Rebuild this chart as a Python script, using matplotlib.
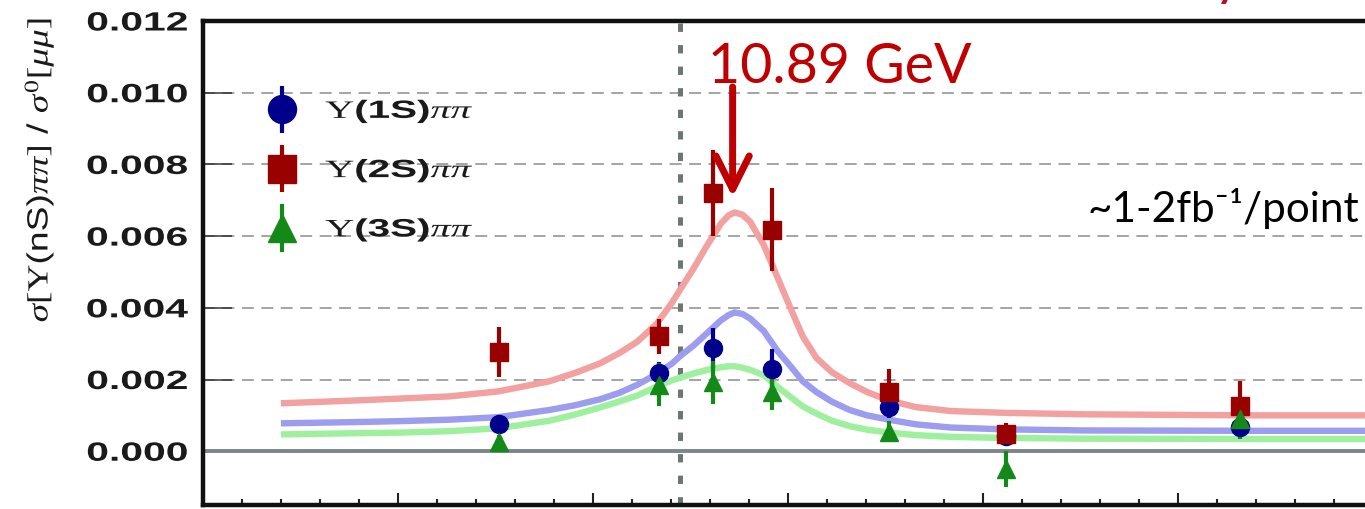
import numpy as np
import matplotlib
matplotlib.use("Agg")
import matplotlib.pyplot as plt
from matplotlib import patheffects
from matplotlib.transforms import Affine2D
from matplotlib.ticker import MultipleLocator
from matplotlib.container import ErrorbarContainer
from matplotlib.legend_handler import HandlerErrorbar

plt.rcParams.update({
    "mathtext.fontset": "custom",
    "mathtext.rm": "Liberation Serif",
    "mathtext.it": "Liberation Serif:italic",
    "mathtext.bf": "Liberation Serif:bold",
    "lines.scale_dashes": False,
})

# ---------------------------------------------------------------- data
# cross-section ratios are given in units of 1e-3
UNIT = 1e-3

# energy scan points (GeV)
energy = [10.83, 10.871, 10.885, 10.90, 10.93, 10.96, 11.02]

ups1s = [0.77, 2.19, 2.88, 2.28, 1.23, 0.42, 0.67]
ups1s_err = [0.25, 0.30, 0.57, 0.56, 0.30, 0.25, 0.25]

ups2s = [2.77, 3.20, 7.21, 6.18, 1.64, 0.47, 1.25]
ups2s_err = [0.70, 0.50, 1.20, 1.16, 0.65, 0.33, 0.70]

ups3s = [0.26, 1.86, 1.92, 1.64, 0.55, -0.50, 0.90]
ups3s_err = [0.20, 0.60, 0.60, 0.50, 0.30, 0.50, 0.55]

# fitted line shapes, sampled along the scan range
fit_energy = [10.775, 10.792, 10.805, 10.8175, 10.83, 10.843, 10.8495, 10.856,
              10.861, 10.8655, 10.8705, 10.8745, 10.8765, 10.88, 10.8835, 10.887,
              10.889, 10.8905, 10.8925, 10.8945, 10.898, 10.9015, 10.905, 10.908,
              10.9115, 10.9155, 10.92, 10.9245, 10.93, 10.937, 10.946, 10.96,
              10.98, 11.023, 11.055]
fit_2s = [1.34, 1.41, 1.47, 1.53, 1.67, 1.95, 2.18, 2.45, 2.74, 3.05, 3.55, 4.15,
          4.5, 5.1, 5.75, 6.35, 6.58, 6.66, 6.6, 6.4, 5.75, 4.85, 3.95, 3.2, 2.6,
          2.2, 1.9, 1.65, 1.42, 1.23, 1.12, 1.07, 1.03, 1.0, 1.0]
fit_1s = [0.78, 0.81, 0.84, 0.88, 0.95, 1.15, 1.28, 1.45, 1.63, 1.85, 2.15, 2.45,
          2.65, 2.95, 3.3, 3.65, 3.8, 3.87, 3.83, 3.7, 3.35, 2.8, 2.35, 1.95, 1.65,
          1.38, 1.15, 1.0, 0.88, 0.75, 0.66, 0.61, 0.58, 0.57, 0.57]
fit_3s = [0.47, 0.50, 0.52, 0.56, 0.64, 0.85, 1.02, 1.22, 1.39, 1.55, 1.8, 1.98,
          2.05, 2.17, 2.27, 2.34, 2.37, 2.37, 2.33, 2.27, 2.12, 1.8, 1.5, 1.25,
          1.05, 0.85, 0.7, 0.6, 0.52, 0.45, 0.4, 0.37, 0.35, 0.34, 0.34]

labels = [r"$\Upsilon$(1S)$\pi\pi$", r"$\Upsilon$(2S)$\pi\pi$", r"$\Upsilon$(3S)$\pi\pi$"]
yticks = [0.000, 0.002, 0.004, 0.006, 0.008, 0.010, 0.012]

REF_ENERGY = 10.8765     # dotted reference line
PEAK_ENERGY = 10.89      # annotated peak position
ARROW_TOP = 10.16        # (1e-3 units)
ARROW_TIP = 7.09

# ---------------------------------------------------------------- style
C_1S, C_2S, C_3S = "#00008c", "#990000", "#138a17"
F_1S, F_2S, F_3S = "#9d9df0", "#f2a0a0", "#9ef09e"
ANNOT = "#c00000"


class Stretch(patheffects.AbstractPathEffect):
    """Widen glyphs along the text baseline, keeping one edge fixed."""

    def __init__(self, sx, anchor="left"):
        super().__init__()
        self.sx = sx
        self.anchor = anchor

    def draw_path(self, renderer, gc, tpath, affine, rgbFace=None):
        ext = tpath.get_extents()
        if self.anchor == "left":
            a = ext.x0
        elif self.anchor == "right":
            a = ext.x1
        else:
            a = 0.5 * (ext.x0 + ext.x1)
        st = Affine2D().translate(-a, 0).scale(self.sx, 1).translate(a, 0)
        renderer.draw_path(gc, tpath, st + affine, rgbFace)


def scaled(v):
    return np.asarray(v, dtype=float) * UNIT


W, H = 1365, 509
fig = plt.figure(figsize=(W / 100, H / 100), dpi=100)
ax = fig.add_axes([203 / W, 4 / H, 1365 / W, 484 / H])

ax.set_xlim(10.7542, 11.1042)
ax.set_ylim(-0.0015, 0.012)

# fitted curves
for vals, col in ((fit_2s, F_2S), (fit_1s, F_1S), (fit_3s, F_3S)):
    ax.plot(fit_energy, scaled(vals), color=col, lw=4.6, zorder=2,
            solid_joinstyle="round")

# data points
common = dict(elinewidth=3.0, capsize=0, zorder=4, linestyle="none")
eb1 = ax.errorbar(energy, scaled(ups1s), yerr=scaled(ups1s_err), fmt="o",
                  color=C_1S, ms=13, **common)
eb2 = ax.errorbar(energy, scaled(ups2s), yerr=scaled(ups2s_err), fmt="s",
                  color=C_2S, ms=13, **common)
eb3 = ax.errorbar(energy, scaled(ups3s), yerr=scaled(ups3s_err), fmt="^",
                  color=C_3S, ms=13, **common)

# reference lines
ax.axhline(0.0, color="#7b858b", lw=2.8, zorder=1.5)
ax.axvline(REF_ENERGY, color="#6e7672", lw=3.6, linestyle=(0, (6, 9.5)), zorder=1.6)

# axes styling
for side in ("left", "top", "bottom"):
    ax.spines[side].set_linewidth(3.2)
    ax.spines[side].set_color("#111111")
ax.spines["right"].set_visible(False)

ax.set_yticks(yticks)
ax.set_yticklabels([f"{v:.3f}" for v in yticks])
ax.xaxis.set_major_locator(MultipleLocator(0.05, offset=0.0042))
ax.xaxis.set_minor_locator(MultipleLocator(0.01, offset=0.0042))
ax.tick_params(axis="x", which="major", direction="in", length=8.6, width=1.5,
               color="#222222", labelbottom=False, top=False)
ax.tick_params(axis="x", which="minor", direction="in", length=4.3, width=1.5,
               color="#222222", top=False)
ax.tick_params(axis="y", which="major", direction="in", length=21, width=1.1,
               color="#333333", pad=11, labelsize=19, labelcolor="#1a1a1a")
for lab in ax.get_yticklabels():
    lab.set_fontfamily("Liberation Sans")
    lab.set_fontweight("bold")

ax.yaxis.grid(True, color="#8c8c8c", lw=1.1, linestyle=(0, (8.6, 5.4)))
ax.set_axisbelow(True)

# y-axis title
ylab = fig.text(39 / W, 1 - 170 / H,
                r"$\sigma[\Upsilon$(nS)$\pi\pi]$ / $\sigma^{0}[\mu\mu]$",
                rotation=90, ha="center", va="center", fontsize=21,
                family="Liberation Sans", color="#1a1a1a")

# legend
leg = ax.legend([eb1, eb2, eb3], labels, loc="upper left",
                bbox_to_anchor=(264 / W, 1 - 97 / H), bbox_transform=fig.transFigure,
                frameon=False, borderpad=0, borderaxespad=0, handlelength=1.4,
                handletextpad=1.05, labelspacing=1.25, markerscale=1.55,
                prop=dict(family="Liberation Sans", weight="bold", size=18),
                handler_map={ErrorbarContainer: HandlerErrorbar(yerr_size=0.95)})
for t in leg.get_texts():
    t.set_color("#1a1a1a")

# peak annotation
ax.annotate("", xy=(PEAK_ENERGY, ARROW_TIP * UNIT),
            xytext=(PEAK_ENERGY, ARROW_TOP * UNIT),
            arrowprops=dict(arrowstyle="->,head_length=0.6,head_width=0.3",
                            color=ANNOT, lw=5, shrinkA=0, shrinkB=0,
                            mutation_scale=40), zorder=6)
ax.annotate(f"{PEAK_ENERGY:.2f} GeV", xy=(PEAK_ENERGY, ARROW_TOP * UNIT),
            xytext=(-25, 4), textcoords="offset pixels", ha="left", va="baseline",
            fontsize=40, family="Lato", color=ANNOT, zorder=6)

lumi = fig.text(1088 / W, 1 - 222 / H, "~1-2fb⁻¹/point", ha="left", va="baseline",
                fontsize=29.5, family=["Lato", "DejaVu Sans"], color="black")

# lower tail of the red heading above the plot
fig.text(1213 / W, 1 + 6 / H, "y", ha="left", va="baseline", fontsize=40,
         family="Lato", color="#b0102a")

# widen the axis-style lettering to its drawn proportions
fig.canvas.draw()
rend = fig.canvas.get_renderer()
tick_w = ax.get_yticklabels()[-1].get_window_extent(rend).width
for lab in ax.get_yticklabels():
    lab.set_path_effects([Stretch(102 / tick_w, "right")])
leg_w = leg.get_texts()[0].get_window_extent(rend).width
for t in leg.get_texts():
    t.set_path_effects([Stretch(150 / leg_w, "left")])
ylab_h = ylab.get_window_extent(rend).height
ylab.set_path_effects([Stretch(305 / ylab_h, "center")])
lumi_w = lumi.get_window_extent(rend).width
lumi.set_fontsize(29.5 * 272 / lumi_w)

fig.savefig("out.png", dpi=100)
